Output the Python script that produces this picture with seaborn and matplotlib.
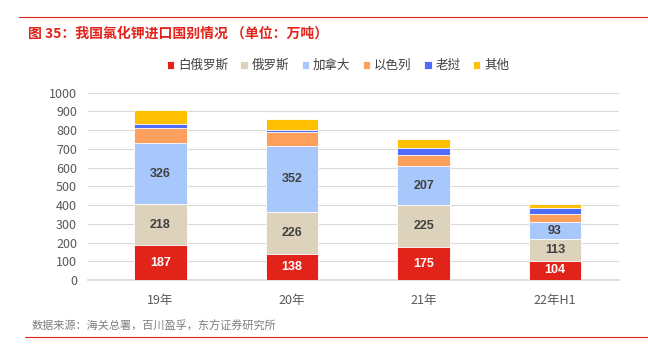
import numpy as np
import pandas as pd
import seaborn as sns
import matplotlib.pyplot as plt

# data
years = ['19年', '20年', '21年', '22年H1']
countries = ['白俄罗斯', '俄罗斯', '加拿大', '以色列', '老挝', '其他']
belarus = [187, 138, 175, 104]
russia = [218, 226, 225, 113]
canada = [326, 352, 207, 93]
israel = [83, 72, 61, 41]
laos = [17, 14, 38, 32]
other = [74, 57, 46, 22]
labelled = ['白俄罗斯', '俄罗斯', '加拿大']

colors = ['#E2231A', '#DDD3BD', '#A8C8FB', '#FE9F5D', '#4F6CFD', '#FEC000']
text_colors = {'白俄罗斯': 'white', '俄罗斯': '#404040', '加拿大': '#404040'}

sns.set_theme(style='white')
plt.rcParams['font.family'] = ['Noto Sans CJK SC', 'DejaVu Sans']

df = pd.DataFrame({'year': years, '白俄罗斯': belarus, '俄罗斯': russia,
                   '加拿大': canada, '以色列': israel, '老挝': laos, '其他': other})
long = df.melt(id_vars='year', var_name='country', value_name='value')

fig = plt.figure(figsize=(6.48, 3.55), dpi=100)
ax = fig.add_axes([0.136, 0.211, 0.82, 0.528])

bottom = np.zeros(len(years))
for c, col in zip(countries, colors):
    vals = long[long['country'] == c]['value'].to_numpy()
    sns.barplot(x=years, y=vals + bottom, color=col, width=0.4, ax=ax,
                edgecolor='white', linewidth=0.6, zorder=10 - countries.index(c),
                label=c, saturation=1)
    if c in labelled:
        for i, v in enumerate(vals):
            ax.text(i, bottom[i] + v / 2, str(v), ha='center', va='center',
                    fontsize=9, fontweight='bold', color=text_colors[c], zorder=20,
                    family=['Liberation Sans', 'DejaVu Sans'])
    bottom = bottom + vals

ax.set_ylim(0, 1000)
ax.set_yticks(range(0, 1001, 100))
ax.set_xlim(-0.55, 3.49)
ax.grid(axis='y', color='#D9D9D9', linewidth=0.8, zorder=0)
ax.set_axisbelow(True)
for s in ['top', 'right', 'left']:
    ax.spines[s].set_visible(False)
ax.spines['bottom'].set_color('#D9D9D9')
ax.tick_params(axis='both', length=0, labelsize=9, labelcolor='#595959', pad=8)
ax.tick_params(axis='x', pad=10)
ax.set_xlabel('')
ax.set_ylabel('')

handles, labels = ax.get_legend_handles_labels()
ax.legend(handles, labels, loc='lower center', bbox_to_anchor=(0.47, 1.05), ncol=6,
          frameon=False, fontsize=9, handlelength=0.6, handleheight=0.6,
          handletextpad=0.3, columnspacing=1.0, labelcolor='#404040')

fig.text(0.043, 0.905, '图 35：我国氯化钾进口国别情况 （单位：万吨）', color='#E2231A',
         fontsize=10, fontweight='bold', va='center')
fig.add_artist(plt.Line2D([0.03, 1.0], [0.952, 0.952], color='#E2231A', linewidth=0.8))
fig.text(0.049, 0.082, '数据来源：海关总署，百川盈孚，东方证券研究所', color='#7F7F7F',
         fontsize=8, va='center')
fig.add_artist(plt.Line2D([0.038, 1.0], [0.052, 0.052], color='#E2231A', linewidth=0.8))

fig.savefig('out.png', dpi=100)
